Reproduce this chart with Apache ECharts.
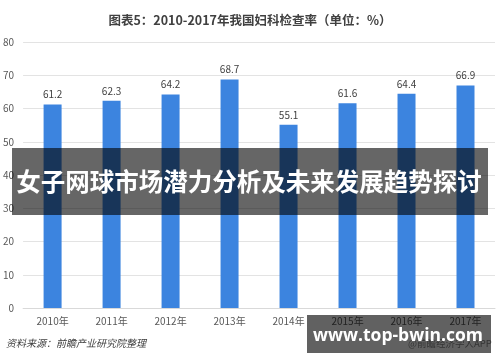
<!DOCTYPE html>
<html><head><meta charset="utf-8">
<script src="https://cdn.jsdelivr.net/npm/echarts@6/dist/echarts.min.js"></script>
<style>html,body{margin:0;padding:0;background:#fff}#c{width:500px;height:362px}</style>
</head><body><div id="c"></div>
<script>
const categories = ['2010年','2011年','2012年','2013年','2014年','2015年','2016年','2017年'];
const values = [61.2, 62.3, 64.2, 68.7, 55.1, 61.6, 64.4, 66.9];
const yTicks = [0, 10, 20, 30, 40, 50, 60, 70, 80];
const titleText = '图表5：2010-2017年我国妇科检查率（单位：%）';
const sourceText = '资料来源：前瞻产业研究院整理';
const bannerText = '女子网球市场潜力分析及未来发展趋势探讨';
const badgeText = 'www.top-bwin.com';
const credit = '@前瞻经济学人APP';

const chart = echarts.init(document.getElementById('c'));
chart.setOption({
  animation: false,
  textStyle: { fontFamily: '"Noto Sans CJK SC", "Open Sans", sans-serif' },
  title: {
    text: titleText, left: 'center', top: 9,
    textStyle: { fontSize: 12.5, fontWeight: 'bold', color: '#404040', fontFamily: '"Noto Sans CJK SC", sans-serif' }
  },
  grid: { left: 22, right: 5, top: 42, bottom: 54 },
  xAxis: {
    type: 'category', data: categories,
    axisLine: { lineStyle: { color: '#d9d9d9', width: 1 } },
    axisTick: { show: false },
    axisLabel: { color: '#595959', fontSize: 10, margin: 8 }
  },
  yAxis: {
    type: 'value', min: yTicks[0], max: yTicks[yTicks.length - 1], interval: 10,
    axisLine: { show: false }, axisTick: { show: false },
    axisLabel: { color: '#595959', fontSize: 10, margin: 9 },
    splitLine: { lineStyle: { color: '#e3e3e3' } }
  },
  series: [{
    type: 'bar', data: values, barWidth: 18,
    itemStyle: { color: '#3C84DF' },
    label: { show: true, position: 'top', distance: 5, color: '#404040', fontSize: 10 }
  }],
  graphic: [
    { type: 'text', left: 6, top: 338, z: 10,
      style: { text: sourceText, fill: '#404040', font: 'italic 10px "Noto Sans CJK SC", sans-serif' } },
    { type: 'text', left: 408, top: 339, z: 10,
      style: { text: credit, fill: '#8a8a8a', font: '9.5px "Noto Sans CJK SC", sans-serif' } },
    { type: 'rect', shape: { x: 12, y: 148, width: 476, height: 67 }, z: 100,
      style: { fill: 'rgba(0,0,0,0.6)' } },
    { type: 'text', x: 249, y: 182, z: 101,
      style: { text: bannerText, fill: '#ffffff', align: 'center', verticalAlign: 'middle',
               font: 'bold 24.5px "Noto Sans CJK SC", sans-serif' } },
    { type: 'rect', shape: { x: 307, y: 315, width: 184, height: 38 }, z: 100,
      style: { fill: 'rgba(0,0,0,0.62)' } },
    { type: 'text', x: 398, y: 336, z: 101,
      style: { text: badgeText, fill: '#ffffff', align: 'center', verticalAlign: 'middle',
               font: 'bold 17.5px "Open Sans", "DejaVu Sans", sans-serif' } }
  ]
});
</script></body></html>
